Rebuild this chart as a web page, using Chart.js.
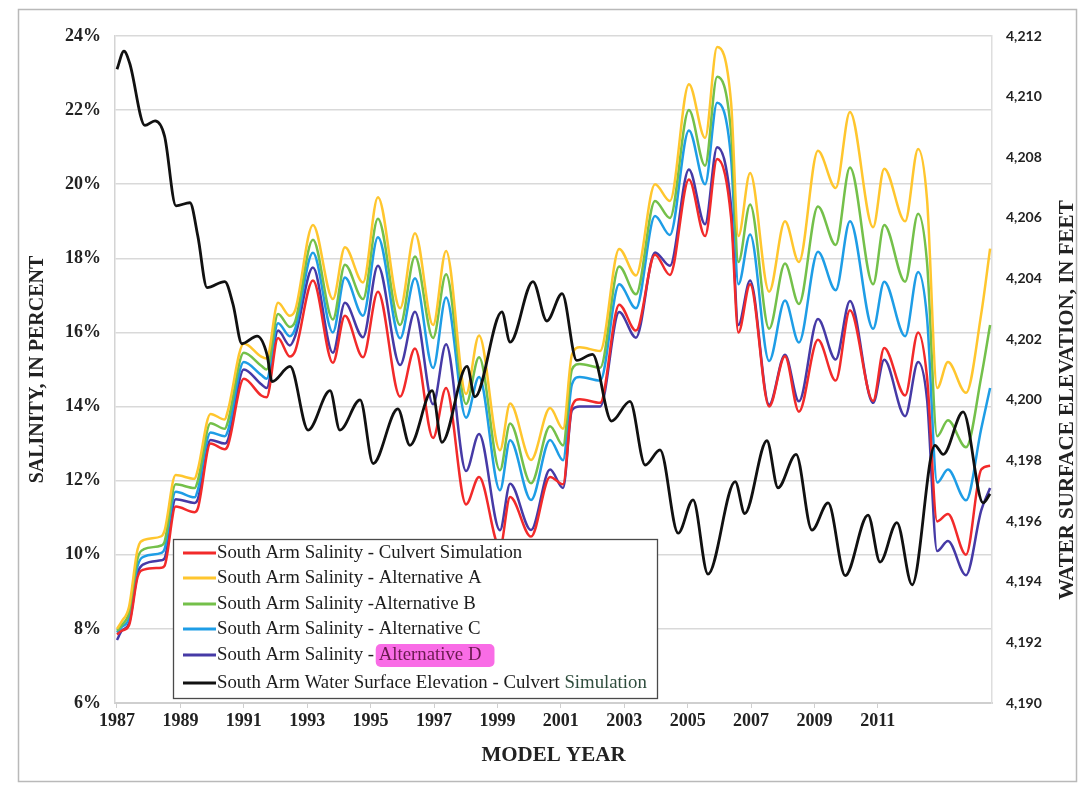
<!DOCTYPE html>
<html><head><meta charset="utf-8">
<script src="https://cdn.jsdelivr.net/npm/chart.js@4.4.1/dist/chart.umd.min.js"></script>
<style>html,body{margin:0;padding:0;background:#fff;}canvas{display:block;}</style>
</head><body>
<canvas id="c" width="1081" height="792"></canvas>
<script>
// ---- data ----
const salYears = [1987.00,1987.15,1987.38,1987.65,1987.85,1988.40,1988.50,1988.85,1989.45,1989.55,
  1989.95,1990.40,1990.50,1991.00,1991.55,1991.72,1992.08,1992.45,1992.62,1993.18,
  1993.81,1994.19,1994.76,1995.23,1995.93,1996.40,1996.97,1997.38,1998.01,1998.42,
  1999.08,1999.40,2000.06,2000.66,2001.07,2001.35,2001.60,2002.24,2002.84,2003.37,
  2003.97,2004.44,2005.04,2005.55,2005.93,2006.37,2006.60,2006.97,2007.57,2008.07,
  2008.51,2009.11,2009.67,2010.12,2010.85,2011.20,2011.86,2012.27,2012.55,2012.87,
  2013.21,2013.78,2014.26,2014.54];
const culvert = [7.85,7.95,8.1,9.4,9.6,9.65,9.7,11.3,11.15,11.25,
  13.0,12.85,12.95,14.75,14.3,14.25,15.85,15.35,15.5,17.4,
  15.18,16.45,15.33,17.1,14.27,15.57,13.15,14.5,11.36,12.1,
  10.2,11.56,10.49,12.1,11.9,14.0,14.2,14.1,16.75,16.05,
  18.1,17.55,20.13,18.6,20.68,19.1,16.0,17.3,14.0,15.36,
  13.86,15.8,14.7,16.6,14.15,15.58,14.3,16.0,14.8,10.9,
  11.1,10.0,12.3,12.4];
const altA = [8.0,8.2,8.6,10.15,10.4,10.5,10.65,12.15,12.05,12.3,
  13.8,13.65,13.9,15.7,15.35,15.3,16.8,16.45,16.6,18.9,
  16.9,18.3,17.35,19.65,16.65,18.68,16.2,18.2,14.34,15.92,
  12.82,14.08,12.56,13.96,13.4,15.4,15.6,15.5,18.25,17.54,
  20.0,19.55,22.7,21.25,23.7,22.2,18.6,20.3,17.1,19.0,
  17.9,20.9,19.9,21.95,18.84,20.42,19.0,20.95,19.6,14.5,
  15.2,14.37,16.5,18.26];
const altB = [7.95,8.1,8.45,9.9,10.15,10.25,10.35,11.9,11.8,12.0,
  13.55,13.4,13.6,15.45,15.1,15.0,16.5,16.15,16.3,18.5,
  16.35,17.83,16.9,19.07,16.2,18.05,15.85,17.57,14.07,15.33,
  12.28,13.54,11.93,13.47,12.95,15.0,15.15,15.05,17.78,17.03,
  19.55,19.09,22.0,20.5,22.9,21.4,17.9,19.45,16.1,17.86,
  16.77,19.4,18.36,20.45,17.3,18.9,17.37,19.2,17.9,13.2,
  13.63,12.9,14.8,16.2];
const altC = [7.9,8.05,8.3,9.7,9.95,10.05,10.15,11.7,11.55,11.75,
  13.3,13.2,13.35,15.2,14.85,14.75,16.25,15.9,16.1,18.15,
  16.0,17.48,16.45,18.57,15.84,17.46,15.04,16.94,13.7,14.8,
  11.74,13.09,11.48,13.1,12.55,14.6,14.8,14.7,17.3,16.65,
  19.14,18.63,21.45,20.0,22.2,20.7,17.3,18.64,15.23,16.86,
  15.73,18.18,17.14,19.0,16.1,17.37,15.9,17.63,16.4,11.95,
  12.3,11.47,13.4,14.5];
const altD = [7.7,7.95,8.15,9.5,9.75,9.85,9.9,11.5,11.4,11.5,
  13.1,13.0,13.1,15.0,14.6,14.5,16.05,15.65,15.9,17.75,
  15.45,16.8,15.87,17.8,15.12,16.56,14.06,15.68,12.26,13.26,
  10.66,11.92,10.67,12.3,11.8,13.9,14.0,14.0,16.55,15.86,
  18.16,17.8,20.4,18.92,21.0,19.4,16.2,17.4,14.05,15.4,
  14.14,16.36,15.27,16.85,14.1,15.26,13.74,15.2,14.2,10.1,
  10.37,9.45,11.2,11.8];
const elevYears = [1987.0,1987.22,1987.4,1987.88,1988.2,1988.5,1988.86,1989.3,1989.55,1989.84,
  1990.4,1990.66,1990.94,1991.42,1991.73,1991.89,1992.46,1993.03,1993.72,1994.03,
  1994.67,1995.08,1995.86,1996.24,1996.94,1997.25,1998.04,1998.29,1999.14,1999.4,
  2000.12,2000.56,2001.04,2001.5,2002.0,2002.6,2003.18,2003.66,2004.13,2004.7,
  2005.17,2005.64,2006.5,2006.8,2007.5,2007.85,2008.42,2008.92,2009.43,2009.97,
  2010.69,2011.07,2011.6,2012.08,2012.8,2013.06,2013.69,2014.32,2014.54];
const elevation = [4210.9,4211.5,4211.1,4209.05,4209.2,4208.7,4206.4,4206.5,4205.4,4203.7,
  4203.9,4203.15,4201.85,4202.1,4201.5,4200.6,4201.1,4199.0,4200.3,4199.0,
  4200.0,4197.9,4199.7,4198.5,4200.3,4198.6,4201.1,4200.1,4202.9,4201.9,
  4203.9,4202.6,4203.5,4201.3,4201.5,4199.3,4199.95,4197.85,4198.35,4195.6,
  4196.7,4194.25,4197.3,4196.25,4198.65,4197.1,4198.2,4195.7,4196.6,4194.2,
  4196.2,4194.65,4195.95,4193.9,4198.5,4198.2,4199.6,4196.6,4196.9];
const xTickYears = [1987,1989,1991,1993,1995,1997,1999,2001,2003,2005,2007,2009,2011];
const seriesNames = [
  'South Arm Salinity - Culvert Simulation',
  'South Arm Salinity - Alternative A',
  'South Arm Salinity -Alternative B',
  'South Arm Salinity - Alternative C',
  'South Arm Salinity - Alternative D',
  'South Arm Water Surface Elevation - Culvert Simulation'
];
const seriesColors = ['#f22a2a','#ffc62e','#74c04a','#1e9de6','#463aa6','#111111'];

const pts = (xs, ys) => xs.map((x, i) => ({x: x, y: ys[i]}));
const salSeries = [culvert, altA, altB, altC, altD];

const datasets = salSeries.map((vals, i) => ({
  label: seriesNames[i], data: pts(salYears, vals), yAxisID: 'y',
  borderColor: seriesColors[i], backgroundColor: seriesColors[i], order: 1
}));
datasets.push({label: seriesNames[5], data: pts(elevYears, elevation), yAxisID: 'y2',
  borderColor: seriesColors[5], backgroundColor: seriesColors[5], borderWidth: 2.8, order: 0});

const SERIF = "'Liberation Serif','Times New Roman',serif";

const decor = {
  id: 'decor',
  beforeDraw(chart) {
    const ctx = chart.ctx;
    ctx.save();
    ctx.fillStyle = '#fff';
    ctx.fillRect(0, 0, chart.width, chart.height);
    ctx.strokeStyle = '#b9b9b9';
    ctx.lineWidth = 1.5;
    ctx.strokeRect(18.5, 9.5, 1058, 772);
    ctx.restore();
  },
  afterDraw(chart) {
    const ctx = chart.ctx;
    ctx.save();
    // right axis title (reads bottom to top)
    ctx.translate(1068, 400);
    ctx.rotate(-Math.PI / 2);
    ctx.font = "bold 21px " + SERIF;
    ctx.fillStyle = '#222';
    ctx.textAlign = 'center';
    ctx.textBaseline = 'middle';
    ctx.fillText('WATER SURFACE ELEVATION, IN FEET', 0, 0);
    ctx.restore();

    // legend box
    const lx = 173, ly = 539, lw = 484, lh = 159;
    ctx.save();
    ctx.fillStyle = '#fff';
    ctx.fillRect(lx, ly, lw, lh);
    ctx.strokeStyle = '#4a4a4a';
    ctx.lineWidth = 1.3;
    ctx.strokeRect(lx + 0.5, ly + 0.5, lw, lh);
    ctx.font = "18.8px " + SERIF;
    ctx.textBaseline = 'middle';
    const rowY = [553, 578, 604, 629, 655, 683];
    chart.data.datasets.forEach((ds, i) => {
      const y = rowY[i];
      ctx.strokeStyle = ds.borderColor;
      ctx.lineWidth = 3;
      ctx.beginPath(); ctx.moveTo(183, y); ctx.lineTo(216, y); ctx.stroke();
      const label = ds.label;
      let tx = 217;
      if (i === 4) {
        const pre = 'South Arm Salinity - ';
        const post = label.slice(pre.length);
        ctx.fillStyle = '#1c1c1c';
        ctx.fillText(pre, tx, y);
        const w0 = ctx.measureText(pre).width;
        const w1 = ctx.measureText(post).width;
        ctx.fillStyle = 'rgba(248,96,228,0.92)';
        ctx.beginPath();
        ctx.roundRect(tx + w0 - 3, y - 11, w1 + 16, 23, 5);
        ctx.fill();
        ctx.fillStyle = '#6a1a4e';
        ctx.fillText(post, tx + w0, y);
      } else if (i === 5) {
        const pre = label.slice(0, label.lastIndexOf(' ') + 1);
        const post = label.slice(pre.length);
        ctx.fillStyle = '#1c1c1c';
        ctx.fillText(pre, tx, y);
        ctx.fillStyle = '#2f4d3d';
        ctx.fillText(post, tx + ctx.measureText(pre).width, y);
      } else {
        ctx.fillStyle = '#1c1c1c';
        ctx.fillText(label, tx, y);
      }
    });
    ctx.restore();
  }
};

new Chart(document.getElementById('c'), {
  type: 'line',
  data: {datasets: datasets},
  options: {
    responsive: false,
    animation: false,
    devicePixelRatio: 1,
    parsing: true,
    layout: {padding: {left: 22, right: 0, top: 36, bottom: 10}},
    plugins: {legend: {display: false}, tooltip: {enabled: false}},
    elements: {
      point: {radius: 0},
      line: {borderWidth: 2.5, cubicInterpolationMode: 'monotone', fill: false}
    },
    scales: {
      x: {
        type: 'linear', min: 1986.937, max: 2014.6,
        afterBuildTicks: s => { s.ticks = xTickYears.map(v => ({value: v})); },
        afterFit: s => { s.height = 79; },
        ticks: {callback: v => String(v), autoSkip: false, maxRotation: 0, padding: 3,
                color: '#222', font: {family: SERIF, size: 18, weight: 'bold'}},
        grid: {drawOnChartArea: false, drawTicks: true, tickLength: 5, color: '#cfcfcf'},
        border: {display: true, color: '#cfcfcf', width: 2},
        title: {display: true, text: 'MODEL YEAR', color: '#222',
                font: {family: SERIF, size: 21, weight: 'bold'}, padding: {top: 0, bottom: 14}}
      },
      y: {
        position: 'left', min: 6, max: 24,
        afterFit: s => { s.width = 93; },
        ticks: {stepSize: 2, callback: v => v + '%', padding: 14, color: '#222',
                font: {family: SERIF, size: 18, weight: 'bold'}},
        grid: {color: '#d9d9d9', lineWidth: 1.5, drawTicks: false},
        border: {display: true, color: '#d4d4d4', width: 1.5},
        title: {display: true, text: 'SALINITY, IN PERCENT', color: '#222',
                font: {family: SERIF, size: 20, weight: 'bold'}, padding: {top: 4, bottom: 0}}
      },
      y2: {
        position: 'right', min: 4190, max: 4212,
        afterFit: s => { s.width = 89; },
        ticks: {stepSize: 2, padding: 14, color: '#222',
                font: {family: 'Lato', size: 14, weight: 'bold'}},
        grid: {display: false, drawTicks: false},
        border: {display: true, color: '#dedede', width: 1.5}
      }
    }
  },
  plugins: [decor]
});
</script>
</body></html>
